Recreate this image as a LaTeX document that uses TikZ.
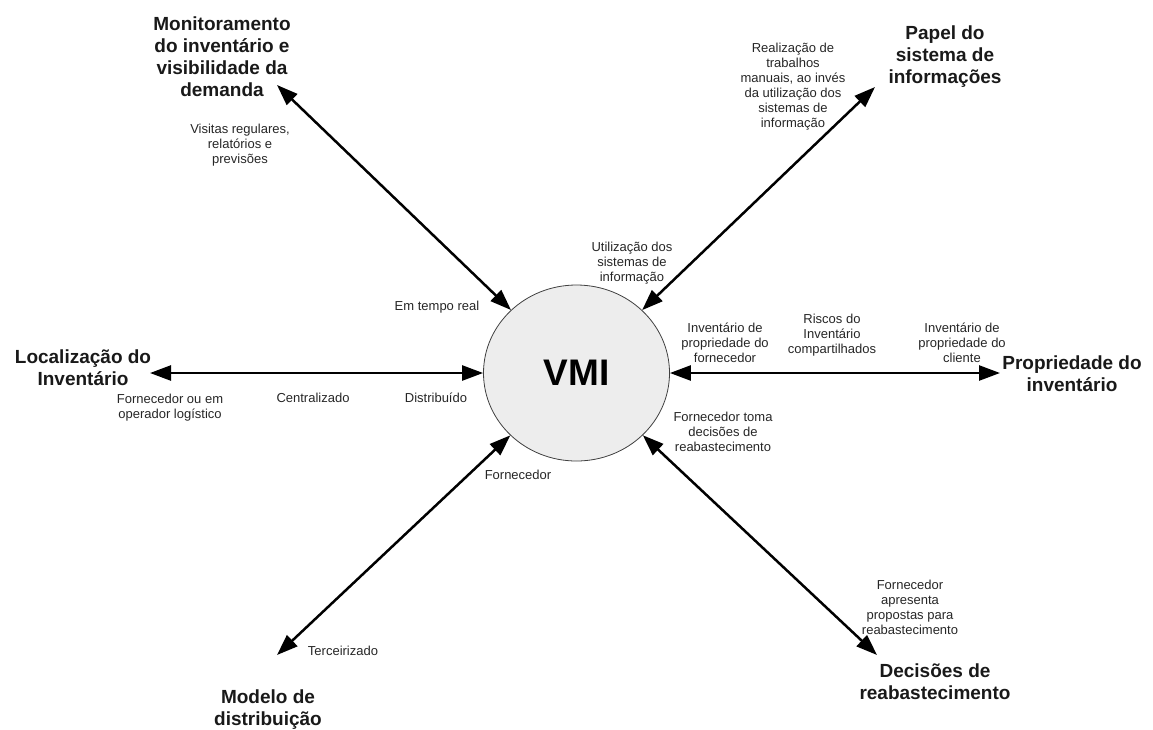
\documentclass[tikz,border=0pt]{standalone}
\usepackage{fontspec}
\setmainfont{Liberation Sans}
\usetikzlibrary{arrows.meta,shapes.geometric}
\begin{document}
\begin{tikzpicture}[x=1pt,y=-1pt,
  axis/.style={line width=2.5pt,
    {Triangle[length=21pt,width=15pt]}-{Triangle[length=21pt,width=15pt]}},
  dimtitle/.style={font=\fontsize{19}{22}\selectfont\bfseries, align=center,
    text=black!90, inner sep=0pt},
  note/.style={font=\fontsize{13}{15}\selectfont, align=center,
    text=black!85, inner sep=0pt}]
\useasboundingbox (0,0) rectangle (1153,729);

% central hub
\node[ellipse, draw=black!75, line width=0.8pt, fill=black!7,
      minimum width=186pt, minimum height=176pt, inner sep=0pt]
      (vmi) at (576.5,373) {\fontsize{37}{40}\selectfont\bfseries VMI};

% free ends of the six axes
\coordinate (tl) at (277,85);
\coordinate (tr) at (875,87);
\coordinate (ml) at (150,373);
\coordinate (mr) at (1000,373);
\coordinate (bl) at (277,655);
\coordinate (br) at (877,655);

\draw[axis] (tl) -- (vmi);
\draw[axis] (tr) -- (vmi);
\draw[axis] (ml) -- (vmi);
\draw[axis] (mr) -- (vmi);
\draw[axis] (bl) -- (vmi);
\draw[axis] (br) -- (vmi);

% dimension titles
\node[dimtitle] (monit) at (222,57) {Monitoramento\\do inventário e\\visibilidade da\\demanda};
\node[dimtitle] (papel) at (945,57) {Papel do\\sistema de\\informações};
\node[dimtitle] (loc) at (83,368) {Localização do\\Inventário};
\node[dimtitle] (prop) at (1072,374) {Propriedade do\\inventário};
\node[dimtitle] (modelo) at (268,710) {Modelo de\\distribuição};
\node[dimtitle] (decis) at (935,682) {Decisões de\\reabastecimento};

% axis notes
\node[note] (visitas) at (240,145) {Visitas regulares,\\relatórios e\\previsões};
\node[note] (tempo) at (437,307) {Em tempo real};
\node[note] (manual) at (793,87) {Realização de\\trabalhos\\manuais, ao invés\\da utilização dos\\sistemas de\\informação};
\node[note] (uso) at (632,263) {Utilização dos\\sistemas de\\informação};
\node[note] (fornop) at (170,408) {Fornecedor ou em\\operador logístico};
\node[note] (central) at (313,398) {Centralizado};
\node[note] (distr) at (436,398) {Distribuído};
\node[note] (invforn) at (725,343) {Inventário de\\propriedade do\\fornecedor};
\node[note] (riscos) at (832,335) {Riscos do\\Inventário\\compartilhados};
\node[note] (invcli) at (962,343) {Inventário de\\propriedade do\\cliente};
\node[note] (toma) at (723,432) {Fornecedor toma\\decisões de\\reabastecimento};
\node[note] (forn) at (518,475) {Fornecedor};
\node[note] (terc) at (343,651) {Terceirizado};
\node[note] (propostas) at (910,607) {Fornecedor\\apresenta\\propostas para\\reabastecimento};
\end{tikzpicture}
\end{document}
